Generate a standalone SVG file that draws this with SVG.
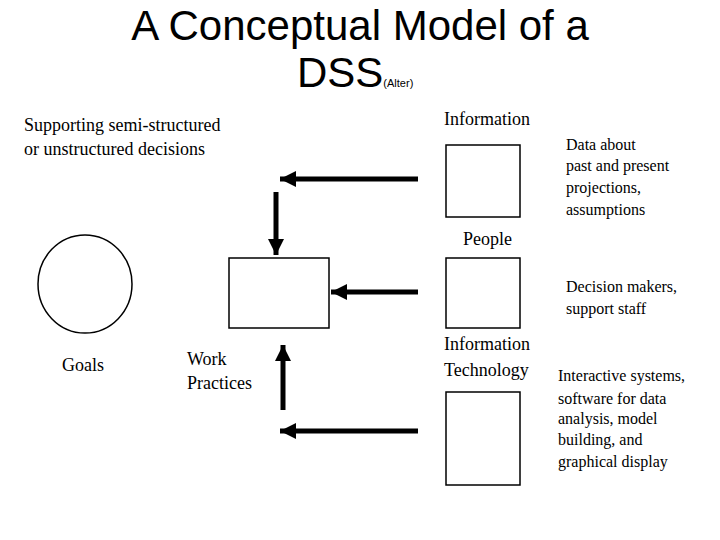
<svg xmlns="http://www.w3.org/2000/svg" width="720" height="540" viewBox="0 0 720 540">
<style>
.t{font-family:"Liberation Serif",serif;font-size:18px;fill:#000}
.s{font-family:"Liberation Serif",serif;font-size:16px;fill:#000}
.h{font-family:"Liberation Sans",sans-serif;font-size:42px;fill:#000}
.b{fill:#fff;stroke:#000;stroke-width:1.5}
.a{stroke:#000;stroke-width:5;fill:none;marker-end:url(#ah)}
</style>
<defs><marker id="ah" markerUnits="userSpaceOnUse" markerWidth="20" markerHeight="20" refX="16" refY="8" orient="auto"><path d="M0,0 L16,8 L0,16 Z" fill="#000"/></marker></defs>
<rect width="720" height="540" fill="#fff"/>
<g id="title">
<text class="h" x="360" y="40" text-anchor="middle">A Conceptual Model of a</text>
<text class="h" x="297" y="87">DSS<tspan font-size="11">(Alter)</tspan></text>
</g>
<g id="decisions"><text class="t" x="24" y="131">Supporting semi-structured</text><text class="t" x="24" y="155">or unstructured decisions</text></g>
<g id="information"><text class="t" x="444" y="125">Information</text><rect class="b" x="446" y="145" width="74" height="72"/>
<text class="s"><tspan x="566" y="150">Data about</tspan><tspan x="566" y="171">past and present</tspan><tspan x="566" y="193">projections,</tspan><tspan x="566" y="215">assumptions</tspan></text></g>
<g id="people"><text class="t" x="463" y="245">People</text><rect class="b" x="446" y="258" width="74" height="70"/>
<text class="s"><tspan x="566" y="292">Decision makers,</tspan><tspan x="566" y="314">support staff</tspan></text></g>
<g id="goals"><ellipse class="b" cx="85" cy="284" rx="47" ry="49"/><text class="t" x="62" y="371">Goals</text></g>
<g id="work"><rect class="b" x="229" y="258" width="100" height="70"/><text class="t" x="187" y="365">Work</text><text class="t" x="187" y="389">Practices</text></g>
<g id="it"><text class="t" x="444" y="350">Information</text><text class="t" x="444" y="376">Technology</text><rect class="b" x="446" y="392" width="74" height="93"/>
<text class="s"><tspan x="558" y="381">Interactive systems,</tspan><tspan x="558" y="404">software for data</tspan><tspan x="558" y="424">analysis, model</tspan><tspan x="558" y="445">building, and</tspan><tspan x="558" y="467">graphical display</tspan></text></g>
<g id="connectors">
<line class="a" x1="418" y1="179" x2="280" y2="179"/>
<line class="a" x1="276" y1="192" x2="276" y2="255"/>
<line class="a" x1="418" y1="292" x2="331" y2="292"/>
<line class="a" x1="283" y1="410" x2="283" y2="345"/>
<line class="a" x1="418" y1="431" x2="280" y2="431"/>
</g>
</svg>
